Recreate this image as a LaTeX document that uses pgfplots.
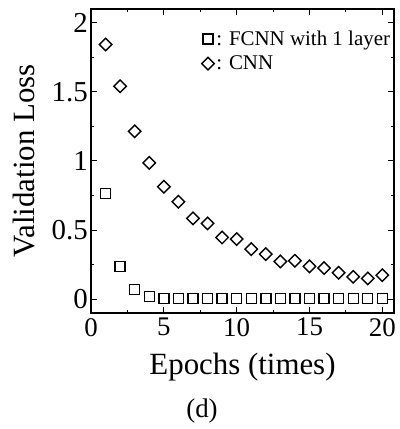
\documentclass[border=0pt]{standalone}
\usepackage{fontspec}
\setmainfont{Liberation Serif}
\usepackage{pgfplots}
\pgfplotsset{compat=1.18}

\begin{document}
\begin{tikzpicture}
\useasboundingbox (-91bp,-116bp) rectangle (309bp,313bp);
\begin{axis}[
  at={(0,0)},anchor=south west,
  scale only axis,width=303bp,height=304bp,
  xmin=0,xmax=20.8,ymin=-0.1,ymax=2.1,
  xtick={0,5,...,20},ytick={0,0.5,...,2},
  minor x tick num=1,minor y tick num=1,
  tick align=inside,major tick length=6bp,minor tick length=3.5bp,
  axis line style={line width=1.3bp},
  every tick/.style={black,line width=1bp},
  /pgf/number format/assume math mode=true,
  tick label style={font=\fontsize{27}{30}\selectfont},
  yticklabel style={font=\fontsize{29}{32}\selectfont},
  xticklabel style={inner sep=1bp,yshift=-4bp},
  yticklabel style={inner sep=1bp,xshift=-2bp},
  label style={font=\fontsize{31}{34}\selectfont},
  xlabel={Epochs (times)},ylabel={Validation Loss},
  xlabel style={at={(axis description cs:0.5,0)},yshift=-54bp,anchor=center},
  ylabel style={at={(axis description cs:0,0.5)},yshift=67bp,anchor=center},
  legend style={draw=none,fill=none,at={(axis description cs:1,1)},anchor=north east,
    font=\fontsize{21}{23}\selectfont,inner sep=0pt,outer sep=0pt,
    xshift=-2bp,yshift=-20bp,row sep=5bp},
  legend cell align=left,
  legend image code/.code={\draw[#1] plot coordinates {(0bp,0bp)};},
]
\addplot[only marks,mark=square,mark size=5bp,line width=1.4bp,black]
  coordinates {(1,0.766) (2,0.237) (3,0.072) (4,0.020) (5,0.004) (6,0.003) (7,0.003)
  (8,0.003) (9,0.003) (10,0.003) (11,0.003) (12,0.003) (13,0.003) (14,0.003)
  (15,0.003) (16,0.003) (17,0.003) (18,0.003) (19,0.003) (20,0.003)};
\addplot[only marks,mark=square,mark size=4.4bp,mark options={rotate=45},line width=1.4bp,black]
  coordinates {(1,1.843) (2,1.541) (3,1.215) (4,0.986) (5,0.814) (6,0.705) (7,0.585)
  (8,0.548) (9,0.447) (10,0.435) (11,0.362) (12,0.326) (13,0.273) (14,0.278)
  (15,0.237) (16,0.225) (17,0.191) (18,0.162) (19,0.150) (20,0.174)};
\legend{: FCNN with 1 layer,: CNN}
\end{axis}
\node[font=\fontsize{27}{29}\selectfont] at (111bp,-98bp) {(d)};
\end{tikzpicture}
\end{document}
